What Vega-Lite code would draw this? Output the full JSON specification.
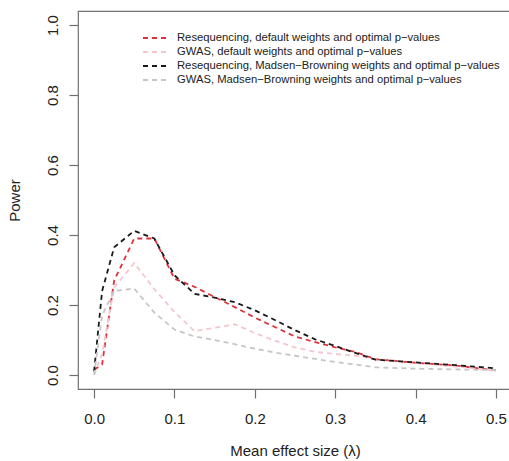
{
  "$schema": "https://vega.github.io/schema/vega-lite/v6.json",
  "autosize": {"type": "none"},
  "padding": {"left": 78, "top": 11, "right": -3, "bottom": 72},
  "width": 434,
  "height": 378,
  "background": "white",
  "config": {
    "view": {"stroke": "#707070", "strokeWidth": 1.2},
    "font": "Liberation Sans",
    "axis": {
      "domain": false,
      "grid": false,
      "tickColor": "#707070",
      "tickWidth": 1.2,
      "tickSize": 9,
      "labelFont": "Liberation Sans",
      "labelFontSize": 15,
      "labelColor": "#222",
      "titleFont": "Liberation Sans",
      "titleFontSize": 15,
      "titleFontWeight": "normal",
      "titleColor": "#222"
    }
  },
  "data": {
    "values": [
      {"x": 0, "power": 0.015, "series": "Resequencing, default weights and optimal p−values"},
      {"x": 0.01, "power": 0.03, "series": "Resequencing, default weights and optimal p−values"},
      {"x": 0.025, "power": 0.27, "series": "Resequencing, default weights and optimal p−values"},
      {"x": 0.05, "power": 0.39, "series": "Resequencing, default weights and optimal p−values"},
      {"x": 0.075, "power": 0.39, "series": "Resequencing, default weights and optimal p−values"},
      {"x": 0.1, "power": 0.275, "series": "Resequencing, default weights and optimal p−values"},
      {"x": 0.125, "power": 0.252, "series": "Resequencing, default weights and optimal p−values"},
      {"x": 0.15, "power": 0.223, "series": "Resequencing, default weights and optimal p−values"},
      {"x": 0.175, "power": 0.194, "series": "Resequencing, default weights and optimal p−values"},
      {"x": 0.2, "power": 0.164, "series": "Resequencing, default weights and optimal p−values"},
      {"x": 0.225, "power": 0.137, "series": "Resequencing, default weights and optimal p−values"},
      {"x": 0.25, "power": 0.11, "series": "Resequencing, default weights and optimal p−values"},
      {"x": 0.275, "power": 0.094, "series": "Resequencing, default weights and optimal p−values"},
      {"x": 0.3, "power": 0.079, "series": "Resequencing, default weights and optimal p−values"},
      {"x": 0.325, "power": 0.066, "series": "Resequencing, default weights and optimal p−values"},
      {"x": 0.35, "power": 0.045, "series": "Resequencing, default weights and optimal p−values"},
      {"x": 0.4, "power": 0.035, "series": "Resequencing, default weights and optimal p−values"},
      {"x": 0.45, "power": 0.027, "series": "Resequencing, default weights and optimal p−values"},
      {"x": 0.5, "power": 0.013, "series": "Resequencing, default weights and optimal p−values"},

      {"x": 0, "power": 0.0, "series": "GWAS, default weights and optimal p−values"},
      {"x": 0.01, "power": 0.06, "series": "GWAS, default weights and optimal p−values"},
      {"x": 0.025, "power": 0.25, "series": "GWAS, default weights and optimal p−values"},
      {"x": 0.05, "power": 0.32, "series": "GWAS, default weights and optimal p−values"},
      {"x": 0.075, "power": 0.245, "series": "GWAS, default weights and optimal p−values"},
      {"x": 0.1, "power": 0.18, "series": "GWAS, default weights and optimal p−values"},
      {"x": 0.125, "power": 0.125, "series": "GWAS, default weights and optimal p−values"},
      {"x": 0.15, "power": 0.135, "series": "GWAS, default weights and optimal p−values"},
      {"x": 0.175, "power": 0.145, "series": "GWAS, default weights and optimal p−values"},
      {"x": 0.2, "power": 0.12, "series": "GWAS, default weights and optimal p−values"},
      {"x": 0.225, "power": 0.098, "series": "GWAS, default weights and optimal p−values"},
      {"x": 0.25, "power": 0.079, "series": "GWAS, default weights and optimal p−values"},
      {"x": 0.275, "power": 0.066, "series": "GWAS, default weights and optimal p−values"},
      {"x": 0.3, "power": 0.06, "series": "GWAS, default weights and optimal p−values"},
      {"x": 0.325, "power": 0.055, "series": "GWAS, default weights and optimal p−values"},
      {"x": 0.35, "power": 0.046, "series": "GWAS, default weights and optimal p−values"},
      {"x": 0.4, "power": 0.034, "series": "GWAS, default weights and optimal p−values"},
      {"x": 0.45, "power": 0.024, "series": "GWAS, default weights and optimal p−values"},
      {"x": 0.5, "power": 0.012, "series": "GWAS, default weights and optimal p−values"},

      {"x": 0, "power": 0.01, "series": "Resequencing, Madsen−Browning weights and optimal p−values"},
      {"x": 0.01, "power": 0.24, "series": "Resequencing, Madsen−Browning weights and optimal p−values"},
      {"x": 0.025, "power": 0.365, "series": "Resequencing, Madsen−Browning weights and optimal p−values"},
      {"x": 0.05, "power": 0.412, "series": "Resequencing, Madsen−Browning weights and optimal p−values"},
      {"x": 0.075, "power": 0.39, "series": "Resequencing, Madsen−Browning weights and optimal p−values"},
      {"x": 0.1, "power": 0.285, "series": "Resequencing, Madsen−Browning weights and optimal p−values"},
      {"x": 0.125, "power": 0.232, "series": "Resequencing, Madsen−Browning weights and optimal p−values"},
      {"x": 0.15, "power": 0.221, "series": "Resequencing, Madsen−Browning weights and optimal p−values"},
      {"x": 0.175, "power": 0.208, "series": "Resequencing, Madsen−Browning weights and optimal p−values"},
      {"x": 0.2, "power": 0.185, "series": "Resequencing, Madsen−Browning weights and optimal p−values"},
      {"x": 0.225, "power": 0.157, "series": "Resequencing, Madsen−Browning weights and optimal p−values"},
      {"x": 0.25, "power": 0.128, "series": "Resequencing, Madsen−Browning weights and optimal p−values"},
      {"x": 0.275, "power": 0.102, "series": "Resequencing, Madsen−Browning weights and optimal p−values"},
      {"x": 0.3, "power": 0.083, "series": "Resequencing, Madsen−Browning weights and optimal p−values"},
      {"x": 0.325, "power": 0.063, "series": "Resequencing, Madsen−Browning weights and optimal p−values"},
      {"x": 0.35, "power": 0.044, "series": "Resequencing, Madsen−Browning weights and optimal p−values"},
      {"x": 0.4, "power": 0.036, "series": "Resequencing, Madsen−Browning weights and optimal p−values"},
      {"x": 0.45, "power": 0.028, "series": "Resequencing, Madsen−Browning weights and optimal p−values"},
      {"x": 0.5, "power": 0.019, "series": "Resequencing, Madsen−Browning weights and optimal p−values"},

      {"x": 0, "power": 0.0, "series": "GWAS, Madsen−Browning weights and optimal p−values"},
      {"x": 0.01, "power": 0.17, "series": "GWAS, Madsen−Browning weights and optimal p−values"},
      {"x": 0.025, "power": 0.24, "series": "GWAS, Madsen−Browning weights and optimal p−values"},
      {"x": 0.05, "power": 0.247, "series": "GWAS, Madsen−Browning weights and optimal p−values"},
      {"x": 0.075, "power": 0.178, "series": "GWAS, Madsen−Browning weights and optimal p−values"},
      {"x": 0.1, "power": 0.13, "series": "GWAS, Madsen−Browning weights and optimal p−values"},
      {"x": 0.125, "power": 0.11, "series": "GWAS, Madsen−Browning weights and optimal p−values"},
      {"x": 0.15, "power": 0.1, "series": "GWAS, Madsen−Browning weights and optimal p−values"},
      {"x": 0.175, "power": 0.088, "series": "GWAS, Madsen−Browning weights and optimal p−values"},
      {"x": 0.2, "power": 0.075, "series": "GWAS, Madsen−Browning weights and optimal p−values"},
      {"x": 0.225, "power": 0.064, "series": "GWAS, Madsen−Browning weights and optimal p−values"},
      {"x": 0.25, "power": 0.055, "series": "GWAS, Madsen−Browning weights and optimal p−values"},
      {"x": 0.275, "power": 0.046, "series": "GWAS, Madsen−Browning weights and optimal p−values"},
      {"x": 0.3, "power": 0.037, "series": "GWAS, Madsen−Browning weights and optimal p−values"},
      {"x": 0.325, "power": 0.03, "series": "GWAS, Madsen−Browning weights and optimal p−values"},
      {"x": 0.35, "power": 0.022, "series": "GWAS, Madsen−Browning weights and optimal p−values"},
      {"x": 0.4, "power": 0.018, "series": "GWAS, Madsen−Browning weights and optimal p−values"},
      {"x": 0.45, "power": 0.016, "series": "GWAS, Madsen−Browning weights and optimal p−values"},
      {"x": 0.5, "power": 0.014, "series": "GWAS, Madsen−Browning weights and optimal p−values"}
    ]
  },
  "mark": {"type": "line", "strokeWidth": 1.8, "strokeDash": [5, 4]},
  "encoding": {
    "x": {
      "field": "x",
      "type": "quantitative",
      "scale": {"domain": [-0.02, 0.52], "nice": false, "zero": false},
      "axis": {
        "title": "Mean effect size (λ)",
        "values": [0, 0.1, 0.2, 0.3, 0.4, 0.5],
        "format": ".1f",
        "labelPadding": 13,
        "titlePadding": 17,
        "labelFlush": false
      }
    },
    "y": {
      "field": "power",
      "type": "quantitative",
      "scale": {"domain": [-0.04, 1.04], "nice": false, "zero": false},
      "axis": {
        "title": "Power",
        "values": [0, 0.2, 0.4, 0.6, 0.8, 1.0],
        "format": ".1f",
        "labelAngle": 270,
        "labelAlign": "center",
        "labelBaseline": "alphabetic",
        "labelPadding": 12,
        "titlePadding": 23,
        "labelFlush": false
      }
    },
    "color": {
      "field": "series",
      "type": "nominal",
      "scale": {
        "domain": [
          "Resequencing, default weights and optimal p−values",
          "GWAS, default weights and optimal p−values",
          "Resequencing, Madsen−Browning weights and optimal p−values",
          "GWAS, Madsen−Browning weights and optimal p−values"
        ],
        "range": ["#e0303c", "#f6c6ce", "#1a1a1a", "#c6c6c6"]
      },
      "legend": {
        "title": null,
        "orient": "none",
        "legendX": 64,
        "legendY": 20,
        "padding": 0,
        "symbolType": "stroke",
        "symbolSize": 625,
        "symbolStrokeWidth": 1.8,
        "symbolDash": [5, 4],
        "clipHeight": 14,
        "rowPadding": 0,
        "labelOffset": 8,
        "labelFont": "Liberation Sans",
        "labelFontSize": 11.25,
        "labelColor": "#222",
        "labelLimit": 500
      }
    }
  }
}
